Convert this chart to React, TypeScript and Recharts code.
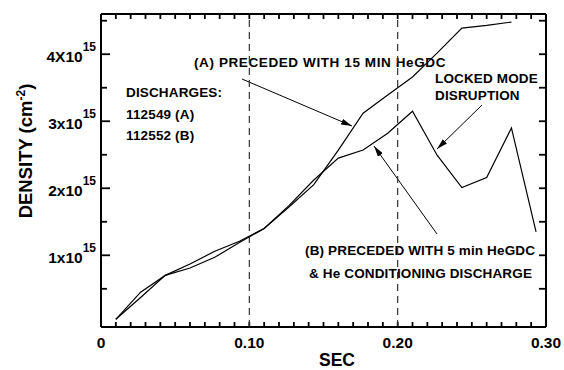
import { LineChart, Line, XAxis, YAxis, ReferenceLine, Customized } from "recharts";

const FONT = "'Liberation Sans', Arial, Helvetica, sans-serif";

// sample times (s) and line densities (units of 1e15 cm^-2)
const times = [
  0.01, 0.0267, 0.0433, 0.06, 0.0767, 0.0933, 0.11, 0.1267, 0.1433, 0.16,
  0.1767, 0.1933, 0.21, 0.2267, 0.2433, 0.26, 0.2767, 0.2933,
];
const densityA = [
  0.045, 0.45, 0.7, 0.87, 1.06, 1.21, 1.4, 1.72, 2.05, 2.57, 3.12, 3.39, 3.66,
  4.02, 4.39, 4.43, 4.48,
];
const densityB = [
  0.045, 0.37, 0.7, 0.81, 0.97, 1.19, 1.4, 1.74, 2.12, 2.45, 2.57, 2.82, 3.15,
  2.49, 2.01, 2.16, 2.9, 1.35,
];

const xLabelValues = [0, 0.1, 0.2, 0.3];
const xLabels = ["0", "0.10", "0.20", "0.30"];
const yLabelValues = [1, 2, 3, 4];
const yLabels = ["1x10", "2x10", "3x10", "4X10"];
const yExponent = "15";
const dashedAt = [0.1, 0.2];

const X_DOMAIN = [0, 0.3];
const Y_DOMAIN = [-0.07, 4.6];

const data = times.map((t, i) => ({ t, a: densityA[i], b: densityB[i] }));
const xTicks = Array.from({ length: 31 }, (_, i) => i / 100);
const yTicks = Array.from({ length: 9 }, (_, i) => (i + 1) / 2);

const findIdx = (list: number[], v: number) =>
  list.findIndex((m) => Math.abs(m - v) < 1e-6);

// inward tick marks as short segments, in data units
const X_PER_PX = (X_DOMAIN[1] - X_DOMAIN[0]) / 445;
const Y_PER_PX = (Y_DOMAIN[1] - Y_DOMAIN[0]) / 313;
const tickSegments: { x: number; y: number }[][] = [
  ...xTicks.map((v) => [
    { x: v, y: Y_DOMAIN[0] },
    { x: v, y: Y_DOMAIN[0] + 5 * Y_PER_PX },
  ]),
  ...xTicks.map((v) => [
    { x: v, y: Y_DOMAIN[1] },
    { x: v, y: Y_DOMAIN[1] - 5 * Y_PER_PX },
  ]),
  ...yTicks.map((v) => [
    { x: X_DOMAIN[0], y: v },
    { x: X_DOMAIN[0] + (findIdx(yLabelValues, v) >= 0 ? 9 : 6) * X_PER_PX, y: v },
  ]),
  ...yTicks.map((v) => [
    { x: X_DOMAIN[1], y: v },
    { x: X_DOMAIN[1] - 7 * X_PER_PX, y: v },
  ]),
];

function BottomTick({ x, y, payload }: any) {
  const idx = findIdx(xLabelValues, payload.value);
  if (idx < 0) return <g />;
  return (
    <text x={x} y={y + 21} textAnchor="middle" fontSize={15.5} fontWeight="bold" fontFamily={FONT} fill="#000">
      {xLabels[idx]}
    </text>
  );
}

function LeftTick({ x, y, payload }: any) {
  const idx = findIdx(yLabelValues, payload.value);
  if (idx < 0) return <g />;
  return (
    <text x={x - 5} y={y + 8} textAnchor="end" fontSize={15.5} fontWeight="bold" fontFamily={FONT} fill="#000">
      {yLabels[idx]}
      <tspan dy={-11} fontSize={12}>{yExponent}</tspan>
    </text>
  );
}

function Annotations() {
  const txt = { fontSize: 13.5, fontWeight: "bold", fontFamily: FONT, fill: "#000", letterSpacing: 0.15 } as const;
  const arrow = { stroke: "#000", strokeWidth: 1, markerEnd: "url(#ah)" };
  return (
    <g>
      <defs>
        <marker id="ah" viewBox="0 0 11 6" refX={11} refY={3} markerWidth={11} markerHeight={6} orient="auto" markerUnits="userSpaceOnUse">
          <path d="M0,0 L11,3 L0,6 z" fill="#000" />
        </marker>
      </defs>
      <line x1={242} y1={79} x2={352} y2={126} {...arrow} />
      <line x1={482} y1={105} x2={437} y2={149} {...arrow} />
      <line x1={437} y1={234} x2={374} y2={146} {...arrow} />

      <text x={194} y={66.5} {...txt} letterSpacing={0.6}>(A) PRECEDED WITH 15 MIN HeGDC</text>
      <text x={126} y={97} {...txt}>DISCHARGES:</text>
      <text x={126} y={118.5} {...txt}>112549 (A)</text>
      <text x={126} y={139.5} {...txt}>112552 (B)</text>
      <text x={435} y={82.5} {...txt}>LOCKED MODE</text>
      <text x={435} y={99.5} {...txt}>DISRUPTION</text>
      <text x={305} y={255} {...txt}>(B) PRECEDED WITH 5 min HeGDC</text>
      <text x={309} y={277.5} {...txt}>&amp; He CONDITIONING DISCHARGE</text>

      <text x={337} y={366} textAnchor="middle" fontSize={17.5} fontWeight="bold" fontFamily={FONT} fill="#000">
        SEC
      </text>
      <text x={32} y={151} transform="rotate(-90, 32, 151)" textAnchor="middle" fontSize={18.5} fontWeight="bold" fontFamily={FONT} fill="#000">
        DENSITY (cm<tspan dy={-7} fontSize={12}>-2</tspan>
        <tspan dy={7}>)</tspan>
      </text>
    </g>
  );
}

export default function App() {
  const axisLine = { stroke: "#000", strokeWidth: 2 };
  return (
    <div style={{ position: "absolute", left: 0, top: 0, background: "#fff" }}>
      <LineChart width={564} height={370} data={data} margin={{ top: 4, right: 8, bottom: 13, left: 41 }}>
        <XAxis xAxisId="bottom" dataKey="t" type="number" domain={X_DOMAIN} ticks={xTicks} interval={0}
          height={30} tickSize={0} tickMargin={0} tickLine={false} axisLine={axisLine} tick={BottomTick} />
        <XAxis xAxisId="top" orientation="top" dataKey="t" type="number" domain={X_DOMAIN} ticks={xTicks}
          height={10} tickLine={false} axisLine={axisLine} tick={false} />
        <YAxis yAxisId="left" type="number" domain={Y_DOMAIN} ticks={yTicks} interval={0}
          width={60} tickSize={0} tickMargin={0} tickLine={false} axisLine={axisLine} tick={LeftTick} />
        <YAxis yAxisId="right" orientation="right" type="number" domain={Y_DOMAIN} ticks={yTicks}
          width={10} tickLine={false} axisLine={axisLine} tick={false} />
        {tickSegments.map((seg, i) => (
          <ReferenceLine key={`t${i}`} segment={seg} xAxisId="bottom" yAxisId="left" stroke="#000" strokeWidth={1.8} ifOverflow="visible" />
        ))}
        {dashedAt.map((v) => (
          <ReferenceLine key={v} x={v} xAxisId="bottom" yAxisId="left" stroke="#333" strokeWidth={1.2} strokeDasharray="7 5" />
        ))}
        <Line xAxisId="bottom" yAxisId="left" type="linear" dataKey="a" stroke="#000" strokeWidth={1.2} dot={false} isAnimationActive={false} />
        <Line xAxisId="bottom" yAxisId="left" type="linear" dataKey="b" stroke="#000" strokeWidth={1.2} dot={false} isAnimationActive={false} />
        <Customized component={Annotations} />
      </LineChart>
    </div>
  );
}
